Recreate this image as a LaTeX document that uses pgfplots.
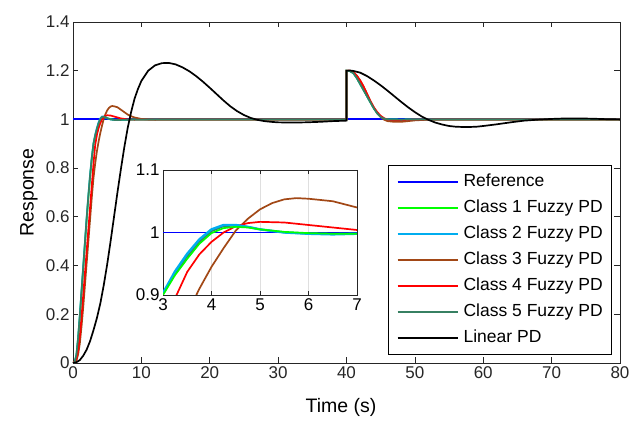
\documentclass[border=0pt]{standalone}
\usepackage{fontspec}
\setmainfont{Liberation Sans}
\usepackage{pgfplots}
\usepackage{pgfplotstable}
\pgfplotsset{compat=1.18}
\definecolor{axgray}{RGB}{38,38,38}
\definecolor{c3}{RGB}{162,72,22}
\definecolor{c5}{RGB}{55,128,98}

\pgfplotstableread{
t y
0 1
80 1
}\tref

\pgfplotstableread{
t y
0 0
0.25 0.004
0.5 0.03
0.75 0.1
1 0.19
1.25 0.29
1.5 0.39
1.75 0.49
2 0.59
2.25 0.68
2.5 0.765
2.75 0.84
3 0.9
3.25 0.932
3.5 0.958
3.75 0.982
4 0.999
4.25 1.007
4.5 1.009
4.75 1.008
5 1.005
5.5 1.001
6 0.999
6.5 0.998
7 0.998
8 0.999
10 1
40 1
40 1.2
40.5 1.198
41 1.19
41.5 1.17
42 1.145
42.5 1.12
43 1.095
43.5 1.07
44 1.045
44.5 1.025
45 1.01
45.5 1.003
46 1.0
48 0.999
50 1
80 1
}\tone

\pgfplotstableread{
t y
0 0
0.25 0.005
0.5 0.035
0.75 0.105
1 0.2
1.25 0.3
1.5 0.4
1.75 0.5
2 0.6
2.25 0.69
2.5 0.775
2.75 0.845
3 0.903
3.25 0.938
3.5 0.966
3.75 0.989
4 1.005
4.25 1.012
4.5 1.012
4.75 1.009
5 1.005
5.5 1.0
6 0.998
6.5 0.997
7 0.998
8 0.999
10 1
40 1
40 1.2
40.5 1.198
41 1.19
41.5 1.17
42 1.145
42.5 1.12
43 1.095
43.5 1.07
44 1.045
44.5 1.025
45 1.01
45.5 1.003
46 1.0
48 0.999
50 1
80 1
}\ttwo

\pgfplotstableread{
t y
0 0
0.5 0.01
0.75 0.035
1 0.08
1.25 0.15
1.5 0.23
1.75 0.32
2 0.41
2.25 0.5
2.5 0.59
2.75 0.68
3 0.76
3.25 0.82
3.5 0.87
3.75 0.91
4 0.945
4.25 0.975
4.5 1.003
4.75 1.022
5 1.037
5.25 1.047
5.5 1.053
5.75 1.055
6 1.054
6.5 1.05
7 1.04
7.5 1.03
8 1.02
8.5 1.013
9 1.008
10 1.002
11 1.0
12 0.999
14 1
40 1
40 1.2
40.5 1.2
41 1.195
41.5 1.18
42 1.16
42.5 1.135
43 1.105
43.5 1.075
44 1.048
44.5 1.027
45 1.01
45.5 0.999
46 0.993
47 0.99
48 0.99
49 0.993
50 0.996
52 0.999
54 1
80 1
}\tthree

\pgfplotstableread{
t y
0 0
0.5 0.015
0.75 0.05
1 0.11
1.25 0.19
1.5 0.28
1.75 0.37
2 0.46
2.25 0.55
2.5 0.64
2.75 0.73
3 0.82
3.25 0.895
3.5 0.937
3.75 0.965
4 0.985
4.25 1.0
4.5 1.01
4.75 1.015
5 1.017
5.5 1.016
6 1.012
6.5 1.008
7 1.004
8 1.0
9 0.999
10 1
40 1
40 1.2
40.5 1.2
41 1.195
41.5 1.18
42 1.16
42.5 1.135
43 1.105
43.5 1.075
44 1.05
44.5 1.03
45 1.015
45.5 1.005
46 0.999
47 0.996
48 0.997
50 1
80 1
}\tfour

\pgfplotstableread{
t y
0 0
0.25 0.005
0.5 0.033
0.75 0.103
1 0.195
1.25 0.295
1.5 0.395
1.75 0.495
2 0.595
2.25 0.685
2.5 0.77
2.75 0.842
3 0.901
3.25 0.935
3.5 0.962
3.75 0.985
4 1.002
4.25 1.01
4.5 1.011
4.75 1.009
5 1.005
5.5 1.0
6 0.998
6.5 0.998
7 0.998
8 0.999
10 1
40 1
40 1.2
40.5 1.198
41 1.19
41.5 1.17
42 1.145
42.5 1.12
43 1.095
43.5 1.07
44 1.045
44.5 1.025
45 1.01
45.5 1.003
46 1.0
48 0.999
50 1
80 1
}\tfive

\pgfplotstableread{
t y
0 0
0.5 0.003
1 0.012
1.5 0.03
2 0.055
2.5 0.09
3 0.135
3.5 0.185
4 0.245
4.5 0.32
5 0.405
5.5 0.5
6 0.6
6.5 0.7
7 0.795
7.5 0.885
8 0.965
8.5 1.03
9 1.085
9.5 1.125
10 1.158
11 1.2
12 1.222
13 1.231
14 1.232
15 1.226
16 1.214
17 1.198
18 1.178
19 1.155
20 1.13
21 1.104
22 1.078
23 1.054
24 1.034
25 1.018
26 1.006
27 0.998
28 0.993
29 0.99
30 0.988
32 0.987
34 0.988
36 0.99
38 0.993
40 0.995
40 1.2
40.5 1.201
41 1.199
42 1.192
43 1.178
44 1.16
45 1.14
46 1.118
47 1.095
48 1.072
49 1.05
50 1.03
51 1.012
52 0.998
53 0.987
54 0.979
55 0.973
56 0.97
57 0.969
58 0.969
59 0.97
60 0.973
62 0.98
64 0.988
66 0.995
68 0.999
70 1.002
72 1.004
74 1.004
76 1.003
78 1.001
80 1.0
}\tlin

\begin{document}
\begin{tikzpicture}
\begin{axis}[
  name=main,
  at={(0,0)}, anchor=south west,
  scale only axis,
  width=547pt, height=341pt,
  xmin=0, xmax=80, ymin=0, ymax=1.4,
  xtick={0,10,...,80},
  ytick={0,0.2,0.4,0.6,0.8,1,1.2,1.4},
  yticklabels={0,0.2,0.4,0.6,0.8,1,1.2,1.4},
  tick align=inside,
  axis line style={axgray, line width=0.8pt},
  major tick style={axgray, line width=0.7pt},
  major tick length=5.5pt,
  tick label style={font=\fontsize{17}{19}\selectfont, text=axgray},
  /pgf/number format/assume math mode=true,
  xlabel={Time (s)}, ylabel={Response},
  label style={font=\fontsize{19.5}{22}\selectfont, text=black},
  xlabel style={at={(axis description cs:0.49,-0.129)}, anchor=center},
  ylabel style={at={(axis description cs:-0.0805,0.5)}, anchor=center},
  legend style={at={(axis description cs:0.9854,0.0235)}, anchor=south east,
    line width=0.7pt, font=\fontsize{17.5}{20}\selectfont,
    nodes={inner sep=0pt, text height=12.5pt, text depth=3.5pt},
    row sep=10pt, column sep=5pt, inner xsep=9pt, inner ysep=8.5pt},
  legend cell align=left,
  legend image code/.code={\draw[mark repeat=2,mark phase=2,#1,line width=1.7pt] plot coordinates {(0pt,0pt) (30pt,0pt) (60pt,0pt)};},
  every axis plot/.append style={line width=1.7pt},
]
\coordinate (o) at (rel axis cs:0,0);
\addplot[color=blue, no marks, line width=1.9pt] table[x=t,y=y] {\tref};
\addlegendentry{Reference}
\addplot[color=green, no marks] table[x=t,y=y] {\tone};
\addlegendentry{Class 1 Fuzzy PD}
\addplot[color=cyan, no marks] table[x=t,y=y] {\ttwo};
\addlegendentry{Class 2 Fuzzy PD}
\addplot[color=c3, no marks] table[x=t,y=y] {\tthree};
\addlegendentry{Class 3 Fuzzy PD}
\addplot[color=red, no marks] table[x=t,y=y] {\tfour};
\addlegendentry{Class 4 Fuzzy PD}
\addplot[color=c5, no marks] table[x=t,y=y] {\tfive};
\addlegendentry{Class 5 Fuzzy PD}
\addplot[color=black, no marks] table[x=t,y=y] {\tlin};
\addlegendentry{Linear PD}
\end{axis}

\begin{axis}[
  at={(90pt,68pt)}, anchor=south west,
  scale only axis,
  width=194pt, height=125pt,
  xmin=3, xmax=7, ymin=0.9, ymax=1.1,
  xtick={3,4,5,6,7},
  ytick={0.9,1,1.1},
  yticklabels={0.9,1,1.1},
  xmajorgrids, grid style={gray!25, line width=0.7pt},
  tick align=inside,
  axis background/.style={fill=white},
  axis line style={axgray, line width=0.8pt},
  major tick style={axgray, line width=0.7pt},
  major tick length=4pt,
  tick label style={font=\fontsize{17}{19}\selectfont, text=black},
  /pgf/number format/assume math mode=true,
  every axis plot/.append style={line width=1.7pt},
  clip=true,
]
\addplot[color=blue, no marks, line width=1.9pt] table[x=t,y=y] {\tref};
\addplot[color=c3, no marks] table[x=t,y=y] {\tthree};
\addplot[color=red, no marks] table[x=t,y=y] {\tfour};
\addplot[color=c5, no marks] table[x=t,y=y] {\tfive};
\addplot[color=cyan, no marks, line width=2.4pt] table[x=t,y=y] {\ttwo};
\addplot[color=green, no marks] table[x=t,y=y] {\tone};
\end{axis}

\pgfresetboundingbox
\path ([xshift=-73pt,yshift=-64pt]o) rectangle ++(633pt,427pt);
\end{tikzpicture}
\end{document}
